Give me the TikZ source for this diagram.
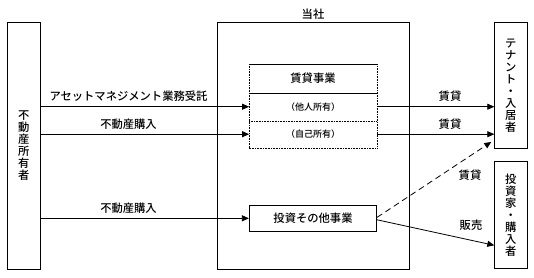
\documentclass[tikz,border=0pt]{standalone}
\usepackage{fontspec}
\setmainfont{Noto Sans CJK JP Medium}
\usetikzlibrary{arrows.meta,calc}
\begin{document}
\begin{tikzpicture}[x=1pt,y=-1pt,
  box/.style={draw,line width=0.8pt,inner sep=0pt},
  txt/.style={font=\fontsize{11.3}{12}\selectfont,inner sep=0pt},
  small/.style={font=\fontsize{9}{10}\selectfont,inner sep=0pt},
  vert/.style={font=\fontsize{11.3}{12}\selectfont,align=center,inner sep=0pt},
  arr/.style={line width=0.8pt,-{Triangle[length=7pt,width=6pt]}},
  dotl/.style={line width=0.6pt,dash pattern=on 0.8pt off 0.8pt}
]
\useasboundingbox (0,0) rectangle (534,277);
% boxes
\node[box,minimum width=33.7pt,minimum height=247.5pt] (owner) at (23.85,145.75) {};
\node[vert] (ownertxt) at (owner.center) {不\\動\\産\\所\\有\\者};
\node[box,minimum width=192.7pt,minimum height=247.5pt] (company) at (313.35,145.75) {};
\node[txt] (companytxt) at (313,14) {当社};
\node[box,minimum width=32.3pt,minimum height=126pt] (tenant) at (510.85,85.5) {};
\node[vert] (tenanttxt) at (tenant.center) {テ\\ナ\\ン\\ト\\・\\入\\居\\者};
\node[box,minimum width=32.3pt,minimum height=107.5pt] (inv) at (510.85,214.75) {};
\node[vert] (invtxt) at (inv.center) {投\\資\\家\\・\\購\\入\\者};
\node[box,minimum width=127.4pt,minimum height=26pt] (invest) at (313,218.3) {};
\node[txt] (investtxt) at (invest.center) {投資その他事業};
% rental business box
\node[minimum width=127.4pt,minimum height=28.4pt,inner sep=0pt] (head) at (313,78.5) {};
\node[txt] (headtxt) at (head.center) {賃貸事業};
\node[minimum width=127.4pt,minimum height=28pt,inner sep=0pt] (row1) at (313,106.7) {};
\node[small] (row1txt) at (row1.center) {（他人所有）};
\node[minimum width=127.4pt,minimum height=27pt,inner sep=0pt] (row2) at (313,134.2) {};
\node[small] (row2txt) at (row2.center) {（自己所有）};
\draw[line width=0.8pt] (head.north west) -- (head.north east);
\draw[line width=0.8pt] (head.south west) -- (head.south east);
\draw[dotl] (head.north west) -- (row2.south west) -- (row2.south east) -- (head.north east);
\draw[dotl] (row1.south west) -- (row1.south east);
% left arrows
\draw[arr] (owner.east |- row1.west) -- (row1.west);
\draw[arr] (owner.east |- row2.west) -- (row2.west);
\draw[arr] (owner.east |- invest.west) -- (invest.west);
\node[txt] (l1) at (128.5,96.5) {アセットマネジメント業務受託};
\node[txt] (l2) at (128.5,124) {不動産購入};
\node[txt] (l3) at (128.5,208) {不動産購入};
% right arrows
\draw[arr] (row1.east) -- (row1.east -| tenant.west);
\draw[arr] (row2.east) -- (row2.east -| tenant.west);
\node[txt] (r1) at (450,96) {賃貸};
\node[txt] (r2) at (450,124) {賃貸};
\coordinate (dend) at ($(tenant.south west)+(-3,-7)$);
\coordinate (sy) at (0,245.3);
\draw[arr,dash pattern=on 6pt off 4pt] ($(invest.east)+(0,-1)$) -- (dend);
\draw[arr] ($(invest.east)+(0,1.5)$) -- (inv.west |- sy);
\node[txt] (r3) at (470,175) {賃貸};
\node[txt] (r4) at (471,225) {販売};
\end{tikzpicture}
\end{document}
